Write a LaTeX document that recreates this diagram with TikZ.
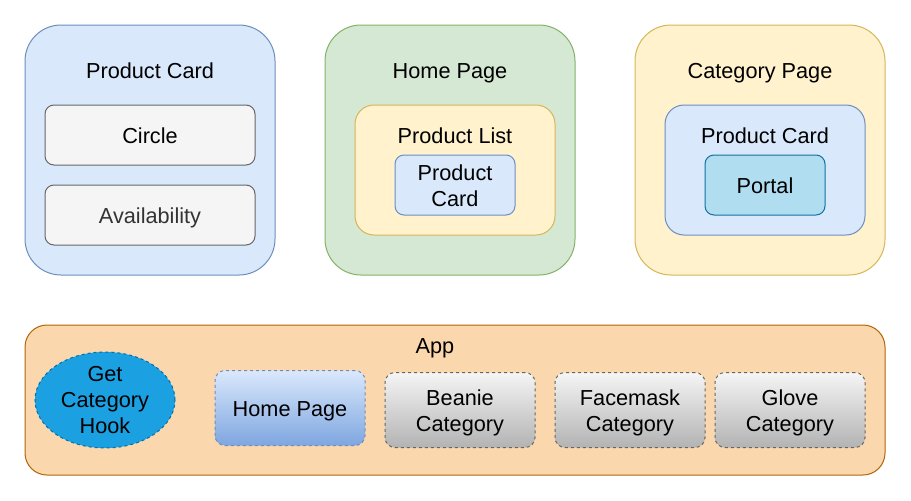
\documentclass[tikz,border=0pt]{standalone}
\usepackage{fontspec}
\setmainfont{Liberation Sans}
\usepackage{tikz}
\usetikzlibrary{shapes, positioning}
\tikzset{>=latex}
\definecolor{myblue}{RGB}{218, 232, 252}
\definecolor{myblueline}{RGB}{108, 142, 191}
\definecolor{mygreen}{RGB}{213, 232, 212}
\definecolor{mygreenline}{RGB}{130, 179, 102}
\definecolor{myyellow}{RGB}{255, 242, 204}
\definecolor{myyellowline}{RGB}{214, 182, 86}
\definecolor{mygray1}{RGB}{245, 245, 245}
\definecolor{mygray3}{RGB}{179, 179, 179}
\definecolor{mygray4}{RGB}{102, 102, 102}
\definecolor{mytext}{RGB}{51, 51, 51}
\definecolor{myportal}{RGB}{177, 221, 240}
\definecolor{myportalline}{RGB}{16, 115, 158}
\definecolor{myorange}{RGB}{250, 215, 172}
\definecolor{myorangeline}{RGB}{180, 101, 4}
\definecolor{myhook}{RGB}{27, 161, 226}
\definecolor{myhookline}{RGB}{0, 110, 175}
\definecolor{mygrad}{RGB}{126, 166, 224}
\tikzset{
  every node/.style = {font=\fontsize{21.7}{26}\selectfont, inner sep=0pt, align=center},
  page/.style = {draw, line width=1pt, rounded corners=36pt, minimum width=250pt, minimum height=250pt},
  part/.style = {draw, line width=1pt, rectangle, rounded corners=#1},
  oneline/.style = {text height=16pt, text depth=0pt},
  twoline/.style = {text height=42pt, text depth=0pt},
  dashbox/.style = {part=10pt, dash pattern=on 3pt off 3pt, minimum width=150pt, minimum height=75pt}
}

\begin{document}
\begin{tikzpicture}[x=1pt, y=-1pt]
\useasboundingbox (0,0) rectangle (911,501);
% top row
\node[page, fill=myblue, draw=myblueline] (card) at (150,150) {};
\node[oneline] (cardtitle) at (150,70) {Product Card};
\node[part=9pt, oneline, fill=mygray1, draw=mygray4, minimum width=210pt, minimum height=60pt] (circle) at (150,135) {Circle};
\node[part=9pt, oneline, fill=mygray1, draw=mygray4, text=mytext, minimum width=210pt, minimum height=60pt] (avail) at (150,215) {Availability};

\node[page, fill=mygreen, draw=mygreenline] (home) at (450,150) {};
\node[oneline] (hometitle) at (450,70) {Home Page};
\node[part=19pt, fill=myyellow, draw=myyellowline, minimum width=200pt, minimum height=130pt] (list) at (455,170) {};
\node[oneline] (listtitle) at (455,135) {Product List};
\node[part=9pt, twoline, fill=myblue, draw=myblueline, minimum width=120pt, minimum height=60pt] (listcard) at (455,185) {Product\\Card};

\node[page, fill=myyellow, draw=myyellowline] (catpage) at (760,150) {};
\node[oneline] (cattitle) at (760,70) {Category Page};
\node[part=19pt, fill=myblue, draw=myblueline, minimum width=200pt, minimum height=130pt] (catcard) at (765,170) {};
\node[oneline] (catcardtitle) at (765,135) {Product Card};
\node[part=9pt, oneline, fill=myportal, draw=myportalline, minimum width=120pt, minimum height=60pt] (portal) at (765,185) {Portal};

% app row
\node[part=22pt, fill=myorange, draw=myorangeline, minimum width=860pt, minimum height=150pt] (app) at (455,400) {};
\node[oneline] (apptitle) at (435,345) {App};
\node[ellipse, draw=myhookline, fill=myhook, line width=1pt, dash pattern=on 3pt off 3pt, minimum width=140pt, minimum height=96pt] (hook) at (105,400) {Get\\Category\\Hook};
\node[dashbox, oneline, top color=myblue, bottom color=mygrad, draw=myblueline] (apphome) at (290,408) {Home Page};
\node[dashbox, twoline, top color=mygray1, bottom color=mygray3, draw=mygray4] (beanie) at (460,410) {Beanie\\Category};
\node[dashbox, twoline, top color=mygray1, bottom color=mygray3, draw=mygray4] (facemask) at (630,410) {Facemask\\Category};
\node[dashbox, twoline, top color=mygray1, bottom color=mygray3, draw=mygray4] (glove) at (790,410) {Glove\\Category};
\end{tikzpicture}
\end{document}
